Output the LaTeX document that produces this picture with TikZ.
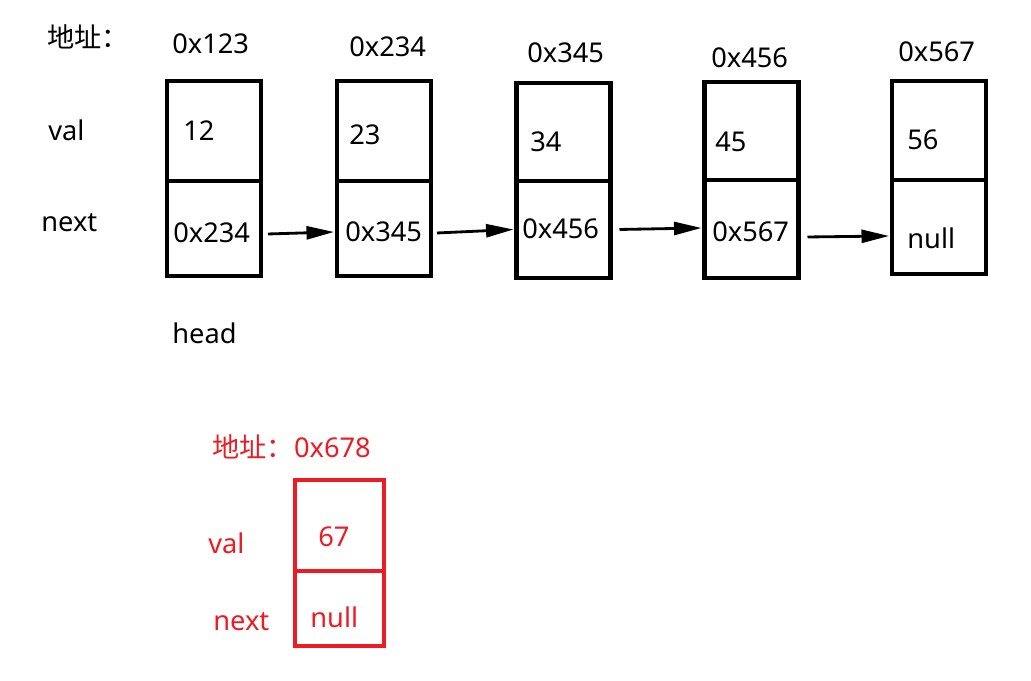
\documentclass[tikz,border=0pt]{standalone}
\usepackage{fontspec}
\setmainfont{Noto Sans}
\newfontfamily\cjk{Noto Sans CJK SC}
\usetikzlibrary{positioning,arrows.meta,calc}
\definecolor{newred}{HTML}{ED1C24}
\tikzset{
  cell/.style={draw, line width=2.8pt, minimum width=1.88cm, outer sep=0pt, inner sep=0pt},
  txt/.style={font=\fontsize{15.5}{18}\selectfont, inner sep=0pt, anchor=west},
  link/.style={line width=1.6pt, -{Triangle[length=0.55cm,width=0.26cm]}}
}
\begin{document}
\begin{tikzpicture}[x=0.02cm,y=-0.02cm]
\useasboundingbox (0,0) rectangle (1031,680);
% row labels
\node[txt] (addr) at (47,37) {\cjk 地址：};
\node[txt] (val) at (48,130) {val};
\node[txt] (next) at (41,223) {next};
\node[txt] (head) at (172,333) {head};
% list nodes
\node[cell, minimum height=2cm] (v1) at (214,131) {};
\node[cell, minimum height=1.9cm, below=0pt of v1] (n1) {};
\node[cell, minimum height=2cm] (v2) at (384,131) {};
\node[cell, minimum height=1.9cm, below=0pt of v2] (n2) {};
\node[cell, minimum height=1.96cm] (v3) at (563.5,132) {};
\node[cell, minimum height=1.94cm, below=0pt of v3] (n3) {};
\node[cell, minimum height=1.96cm] (v4) at (751.5,131) {};
\node[cell, minimum height=1.96cm, below=0pt of v4] (n4) {};
\node[cell, minimum height=1.98cm] (v5) at (939,130.5) {};
\node[cell, minimum height=1.88cm, below=0pt of v5] (n5) {};
% addresses
\node[txt] (a1) at (172,44) {0x123};
\node[txt] (a2) at (349,47) {0x234};
\node[txt] (a3) at (527,53) {0x345};
\node[txt] (a4) at (711,58) {0x456};
\node[txt] (a5) at (898,52) {0x567};
% contents
\node[txt] (t1) at (183,131) {12};
\node[txt] (t2) at (349,135) {23};
\node[txt] (t3) at (530,142) {34};
\node[txt] (t4) at (715,142) {45};
\node[txt] (t5) at (907,140) {56};
\node[txt] (p1) at (173,233) {0x234};
\node[txt] (p2) at (345,232) {0x345};
\node[txt] (p3) at (522,229) {0x456};
\node[txt] (p4) at (712,232) {0x567};
\node[txt] (p5) at (907,238) {null};
\draw[link] ($(n1.east)+(7,5.5)$) -- ($(n2.west)+(-3,3.5)$);
\draw[link] ($(n2.east)+(6,4.5)$) -- ($(n3.west)+(-3,0)$);
\draw[link] ($(n3.east)+(9,0)$) -- ($(n4.west)+(-3,-1)$);
\draw[link] ($(n4.east)+(9,8)$) -- ($(n5.west)+(-3,9)$);
% new node
\begin{scope}[newred]
\node[txt] (raddr) at (212,447) {\cjk 地址：\normalfont 0x678};
\node[txt] (rval) at (208,543) {val};
\node[txt] (rnext) at (213,622) {next};
\node[cell, draw=newred, minimum width=1.78cm, minimum height=1.82cm] (rv) at (339.5,525.5) {};
\node[cell, draw=newred, minimum width=1.78cm, minimum height=1.5cm, below=0pt of rv] (rn) {};
\node[txt] (rt) at (318,537) {67};
\node[txt] (rp) at (310,617) {null};
\end{scope}
\end{tikzpicture}
\end{document}
